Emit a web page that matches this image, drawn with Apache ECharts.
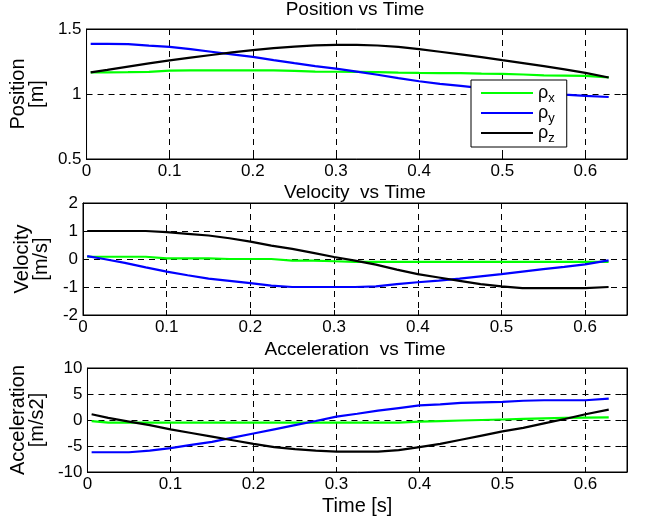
<!DOCTYPE html>
<html>
<head>
<meta charset="utf-8">
<script src="https://cdn.jsdelivr.net/npm/echarts@6/dist/echarts.min.js"></script>
<style>
html,body{margin:0;padding:0;background:#fff;}
#chart{width:651px;height:520px;}
</style>
</head>
<body>
<div id="chart"></div>
<script>
// ---- data ----
var time = [0.005,0.025,0.05,0.075,0.1,0.125,0.15,0.175,0.2,0.225,0.25,0.275,0.3,0.325,0.35,0.375,0.4,0.425,0.45,0.475,0.5,0.525,0.55,0.575,0.6,0.628];

var posX = [1.166,1.167,1.168,1.170,1.180,1.181,1.181,1.181,1.181,1.181,1.178,1.172,1.171,1.170,1.169,1.164,1.162,1.161,1.160,1.157,1.155,1.150,1.143,1.142,1.140,1.128];
var posY = [1.386,1.386,1.383,1.372,1.362,1.345,1.325,1.305,1.285,1.260,1.237,1.215,1.195,1.172,1.148,1.122,1.098,1.078,1.062,1.045,1.030,1.018,1.006,0.995,0.986,0.977];
var posZ = [1.166,1.185,1.210,1.235,1.258,1.280,1.300,1.320,1.338,1.353,1.365,1.374,1.378,1.378,1.373,1.362,1.345,1.325,1.305,1.283,1.260,1.238,1.214,1.190,1.163,1.127];

var velX = [0.08,0.08,0.08,0.08,0.02,0.02,0.02,0.0,0.0,0.0,-0.06,-0.06,-0.08,-0.1,-0.1,-0.1,-0.1,-0.1,-0.1,-0.1,-0.1,-0.1,-0.1,-0.1,-0.1,-0.1];
var velY = [0.1,0.0,-0.14,-0.3,-0.45,-0.58,-0.7,-0.78,-0.86,-0.95,-1.0,-1.0,-1.0,-1.0,-0.98,-0.9,-0.83,-0.77,-0.7,-0.62,-0.54,-0.45,-0.36,-0.28,-0.19,-0.05];
var velZ = [1.0,1.0,1.0,1.0,0.96,0.9,0.84,0.74,0.62,0.48,0.36,0.22,0.07,-0.06,-0.2,-0.38,-0.54,-0.66,-0.78,-0.9,-0.98,-1.04,-1.04,-1.04,-1.04,-1.0];

var accX = [-0.2,-0.5,-0.5,-0.5,-0.5,-0.5,-0.5,-0.5,-0.5,-0.5,-0.5,-0.5,-0.5,-0.5,-0.5,-0.5,-0.3,-0.2,-0.1,0.0,0.1,0.2,0.3,0.4,0.45,0.5];
var accY = [-6.2,-6.2,-6.2,-5.9,-5.4,-4.8,-4.2,-3.4,-2.6,-1.8,-1.0,-0.2,0.65,1.2,1.8,2.3,2.8,3.0,3.3,3.4,3.5,3.7,3.8,3.8,3.8,4.1];
var accZ = [1.1,0.4,-0.3,-1.0,-1.8,-2.5,-3.2,-3.9,-4.6,-5.2,-5.6,-5.9,-6.1,-6.1,-6.1,-5.8,-5.2,-4.6,-3.8,-3.0,-2.2,-1.5,-0.65,0.2,1.1,2.0];

var titles = ['Position vs Time','Velocity  vs Time','Acceleration  vs Time'];
var yNames = ['Position\n[m]','Velocity\n[m/s]','Acceleration\n[m/s2]'];
var yMin = [0.5,-2,-10];
var yMax = [1.5,2,10];
var yStep = [0.5,1,5];
var xName = 'Time [s]';
var legendNames = ['ρx','ρy','ρz'];

// ---- layout ----
var FONT = 'Liberation Sans, Arial, Helvetica, sans-serif';
var L = 83, R = 24;
var grids = [{top:29,height:130},{top:203,height:112},{top:368,height:104}];
var titleTops = [0,183,340];
var colors = ['#00ff00','#0000ff','#000000'];
var dash = [6,5];

function pairs(v){ return time.map(function(t,i){ return [t, v[i]]; }); }

var option = {
  animation:false,
  backgroundColor:'#fff',
  textStyle:{fontFamily:FONT,color:'#000'},
  title: titles.map(function(t,i){
    return {text:t,left:L+(651-L-R)/2,textAlign:'center',top:titleTops[i],padding:0,
      textStyle:{fontFamily:FONT,fontSize:19,fontWeight:'normal',color:'#000',lineHeight:20}};
  }),
  grid: grids.map(function(g){
    return {left:L,right:R,top:g.top,height:g.height,show:true,borderColor:'#000',borderWidth:1,backgroundColor:'transparent'};
  }),
  xAxis: [],
  yAxis: [],
  legend:{
    data:legendNames,
    orient:'vertical',
    left:471, top:80,
    backgroundColor:'#fff',
    borderColor:'#000',borderWidth:1,
    padding:[4,12,2,10],
    itemWidth:52,itemHeight:2,itemGap:-1,
    icon:'rect',
    formatter:function(n){ return '{r|ρ}{s|'+n.charAt(1)+'}'; },
    textStyle:{fontFamily:FONT,color:'#000',
      rich:{r:{fontSize:18,fontFamily:FONT,lineHeight:24,verticalAlign:'middle'},
            s:{fontSize:13,fontFamily:FONT,lineHeight:10,verticalAlign:'bottom'}}}
  },
  series: []
};

for (var k=0;k<3;k++){
  option.xAxis.push({
    type:'value',gridIndex:k,min:0,max:0.65,interval:0.1,position:'bottom',
    axisLine:{show:true,onZero:false,lineStyle:{color:'#000',width:1}},
    axisTick:{show:true,inside:true,length:5,lineStyle:{color:'#000'}},
    axisLabel:{color:'#000',fontFamily:FONT,fontSize:17,margin:4,showMaxLabel:false,
      formatter:function(v){ return Math.abs(v-0.65)<1e-6 ? '' : (+v.toFixed(2)).toString(); }},
    splitLine:{show:true,lineStyle:{color:'#000',type:dash,width:1}},
    name: k===2 ? xName : '',
    nameLocation:'middle',nameGap:24,
    nameTextStyle:{fontFamily:FONT,fontSize:20,color:'#000',verticalAlign:'top'}
  });
  option.xAxis.push({
    type:'value',gridIndex:k,min:0,max:0.65,interval:0.1,position:'top',
    axisLine:{show:true,onZero:false,lineStyle:{color:'#000'}},
    axisTick:{show:true,inside:true,length:5,lineStyle:{color:'#000'}},
    axisLabel:{show:false},splitLine:{show:false}
  });
  option.yAxis.push({
    type:'value',gridIndex:k,min:yMin[k],max:yMax[k],interval:yStep[k],position:'left',
    axisLine:{show:true,onZero:false,lineStyle:{color:'#000',width:1}},
    axisTick:{show:true,inside:true,length:5,lineStyle:{color:'#000'}},
    axisLabel:{color:'#000',fontFamily:FONT,fontSize:17,margin:5},
    splitLine:{show:true,lineStyle:{color:'#000',type:dash,width:1}},
    name:yNames[k],nameLocation:'middle',nameRotate:90,nameGap:32,
    nameTextStyle:{fontFamily:FONT,fontSize:20,color:'#000',lineHeight:19}
  });
  option.yAxis.push({
    type:'value',gridIndex:k,min:yMin[k],max:yMax[k],interval:yStep[k],position:'right',
    axisLine:{show:true,onZero:false,lineStyle:{color:'#000'}},
    axisTick:{show:true,inside:true,length:5,lineStyle:{color:'#000'}},
    axisLabel:{show:false},splitLine:{show:false}
  });
}

var sets = [[posX,posY,posZ],[velX,velY,velZ],[accX,accY,accZ]];
var names = [['ρx','ρy','ρz'],['vx','vy','vz'],['ax','ay','az']];
for (var g=0; g<3; g++){
  for (var s=0; s<3; s++){
    option.series.push({
      type:'line',name:names[g][s],xAxisIndex:2*g,yAxisIndex:2*g,
      data:pairs(sets[g][s]),showSymbol:false,symbol:'none',
      lineStyle:{color:colors[s],width:2.2},itemStyle:{color:colors[s]}
    });
  }
}

var chart = echarts.init(document.getElementById('chart'),null,{renderer:'canvas'});
chart.setOption(option);
</script>
</body>
</html>
